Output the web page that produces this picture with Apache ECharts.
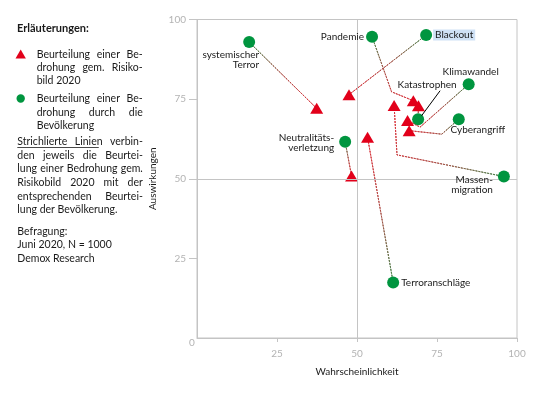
<!DOCTYPE html>
<html><head><meta charset="utf-8">
<script src="https://cdn.jsdelivr.net/npm/echarts@6/dist/echarts.min.js"></script>
<style>html,body{margin:0;padding:0;background:#fff}#c{width:538px;height:395px}</style>
</head><body><div id="c"></div>
<script>
// ---- data ----
const threats = ['systemischer Terror', 'Pandemie', 'Blackout', 'Klimawandel', 'Katastrophen', 'Cyberangriff', 'Massenmigration', 'Neutralitätsverletzung', 'Terroranschläge'];
const labelTexts = ['systemischer\nTerror', 'Pandemie', 'Blackout', 'Klimawandel', 'Katastrophen', 'Cyberangriff', 'Massen-\nmigration', 'Neutralitäts-\nverletzung', 'Terroranschläge'];
// Beurteilung durch die Bevölkerung (green)
const popProb   = [16.3, 54.7, 71.6, 84.9, 69.1, 81.8, 95.9, 46.3, 61.3];
const popImpact = [92.9, 94.6, 95.1, 79.7, 68.7, 68.7, 50.7, 61.6, 17.4];
// Beurteilung gem. Risikobild 2020 (red)
const riskProb   = [37.4, 67.6, 47.5, 65.8, 69.2, 66.3, 61.6, 48.3, 53.3];
const riskImpact = [72.1, 74.5, 76.4, 68.3, 72.9, 65.1, 73.0, 50.9, 63.0];
// bend points of the dashed connectors (null = straight)
const bendProb   = [null, 60.8, null, 69.7, null, 76.5, 62.5, null, null];
const bendImpact = [null, 77.3, null, 66.2, null, 64.0, 57.5, null, null];
const xTicks = [0, 25, 50, 75, 100];
const yTicks = [0, 25, 50, 75, 100];
const refLines = [50];
const headline = 'Erläuterungen:';
const legend1Lines = ['Beurteilung einer Be-', 'drohung gem. Risiko-', 'bild 2020'];
const legend2Lines = ['Beurteilung einer Be-', 'drohung durch die', 'Bevölkerung'];
const noteLines = ['Strichlierte Linien verbin-', 'den jeweils die Beurtei-', 'lung einer Bedrohung gem.', 'Risikobild 2020 mit der', 'entsprechenden Beurtei-', 'lung der Bevölkerung.'];
const surveyLines = ['Befragung:', 'Juni 2020, N = 1000', 'Demox Research'];
const xName = 'Wahrscheinlichkeit';
const yName = 'Auswirkungen';

// ---- styling ----
const FONT = 'Lato';
const GREEN = '#00953f', RED = '#e2001a', TXT = '#1a1a1a', GRID = '#c4c4c4', TICKTXT = '#b3b3b3';
const G = {left: 197, right: 21, top: 19.5, bottom: 57};

// label placement (pixels)
const labelCfg = [
  {pos: 'inside', align: 'right', dx: 10, dy: 18},
  {pos: 'left', distance: 2},
  {pos: 'right', distance: 1, extra: {backgroundColor: '#cfe1f5', padding: [1, 2, 0, 2]}},
  {pos: 'inside', dx: 2, dy: -12},
  {pos: 'inside', dx: 9, dy: -34, leader: [[3.5, -3.5], [22, -28.5]]},
  {pos: 'inside', dx: 19, dy: 11},
  {pos: 'inside', align: 'right', dx: -11, dy: 8.6},
  {pos: 'inside', align: 'right', dx: -11, dy: 1},
  {pos: 'right', distance: 2}
];

const chart = echarts.init(document.getElementById('c'), null, {renderer: 'canvas'});

// connectors
const connectorSeries = threats.map((t, i) => {
  const pts = [[popProb[i], popImpact[i]]];
  if (bendProb[i] != null) pts.push([bendProb[i], bendImpact[i]]);
  pts.push([riskProb[i], riskImpact[i]]);
  const x0 = riskProb[i] >= popProb[i] ? 0 : 1;
  const y0 = riskImpact[i] <= popImpact[i] ? 0 : 1;
  return {
    type: 'line', name: 'conn-' + t, data: pts, symbol: 'none', silent: true, z: 2,
    animation: false,
    lineStyle: {
      width: 1, type: [2, 1],
      color: new echarts.graphic.LinearGradient(x0, y0, 1 - x0, 1 - y0, [
        {offset: 0, color: '#3f8a4f'}, {offset: 0.5, color: '#b0504a'}, {offset: 1, color: '#e2303c'}
      ])
    }
  };
});

// justified text helper
const measure = document.createElement('canvas').getContext('2d');
function textBlock(lines, x0, width, yStart, lh, justify, fontSpec) {
  measure.font = fontSpec;
  const out = [];
  lines.forEach((line, li) => {
    const y = yStart + li * lh;
    const isLast = li === lines.length - 1;
    const words = line.split(' ');
    if (!justify || isLast || words.length < 2) {
      out.push({type: 'text', x: x0, y: y, silent: true, style: {text: line, font: fontSpec, fill: TXT, align: 'left', verticalAlign: 'middle'}});
      return;
    }
    const ws = words.map(w => measure.measureText(w).width);
    const total = ws.reduce((a, b) => a + b, 0);
    const gap = Math.max(2.5, (width - total) / (words.length - 1));
    let cx = x0;
    words.forEach((w, wi) => {
      out.push({type: 'text', x: cx, y: y, silent: true, style: {text: w, font: fontSpec, fill: TXT, align: 'left', verticalAlign: 'middle'}});
      cx += ws[wi] + gap;
    });
  });
  return out;
}

const F11 = '10.5px Lato';
const graphics = [];
graphics.push({type: 'text', x: 17, y: 28.5, silent: true, style: {text: headline, font: 'bold 11px Lato', fill: TXT, align: 'left', verticalAlign: 'middle'}});
graphics.push({type: 'polygon', silent: true, shape: {points: [[20.7, 49.5], [15.5, 58.5], [25.9, 58.5]]}, style: {fill: RED}});
graphics.push(...textBlock(legend1Lines, 36.7, 106, 54.5, 13.3, true, F11));
graphics.push({type: 'circle', silent: true, shape: {cx: 20.7, cy: 98.5, r: 4.2}, style: {fill: GREEN}});
graphics.push(...textBlock(legend2Lines, 36.7, 106, 99, 13.5, true, F11));
graphics.push(...textBlock(noteLines, 17.3, 125.5, 141.8, 13.65, true, F11));
measure.font = F11;
const ulw = measure.measureText('Strichlierte Linien').width;
graphics.push({type: 'line', silent: true, shape: {x1: 17.3, y1: 147.5, x2: 17.3 + ulw + 1, y2: 147.5}, style: {stroke: TXT, lineWidth: 0.8}});
graphics.push(...textBlock(surveyLines, 17.3, 125.5, 231.5, 13.6, false, F11));
// origin "0" label
graphics.push({type: 'text', x: G.left - 5, y: 395 - G.bottom + 5, silent: true, style: {text: String(yTicks[0]), font: '10px Lato', fill: TICKTXT, align: 'center', verticalAlign: 'middle'}});

const option = {
  animation: false,
  backgroundColor: '#fff',
  grid: {left: G.left, right: G.right, top: G.top, bottom: G.bottom, show: true, borderColor: GRID, borderWidth: 1},
  xAxis: {
    type: 'value', min: xTicks[0], max: xTicks[xTicks.length - 1], interval: xTicks[1] - xTicks[0],
    name: xName, nameLocation: 'middle', nameGap: 29,
    nameTextStyle: {color: TXT, fontFamily: FONT, fontSize: 10},
    axisLine: {show: true, lineStyle: {color: GRID}},
    axisTick: {show: true, length: 4, lineStyle: {color: GRID}},
    axisLabel: {color: TICKTXT, fontFamily: FONT, fontSize: 10, margin: 11, showMinLabel: false},
    splitLine: {show: false}
  },
  yAxis: {
    type: 'value', min: yTicks[0], max: yTicks[yTicks.length - 1], interval: yTicks[1] - yTicks[0],
    name: yName, nameLocation: 'middle', nameGap: 28,
    nameTextStyle: {color: TXT, fontFamily: FONT, fontSize: 10},
    axisLine: {show: true, lineStyle: {color: GRID}},
    axisTick: {show: true, length: 8, lineStyle: {color: GRID}},
    axisLabel: {color: TICKTXT, fontFamily: FONT, fontSize: 10, margin: 11, showMinLabel: false},
    splitLine: {show: false}
  },
  graphic: graphics,
  series: [
    {
      type: 'line', name: 'ref', data: [], silent: true, z: 1,
      markLine: {
        silent: true, symbol: 'none', animation: false, label: {show: false},
        lineStyle: {color: GRID, type: 'solid', width: 1},
        data: [...refLines.map(v => ({xAxis: v})), ...refLines.map(v => ({yAxis: v}))]
      }
    },
    ...connectorSeries,
    {
      type: 'scatter', name: 'Risikobild 2020', symbol: 'triangle', symbolSize: [13, 11], z: 4,
      itemStyle: {color: RED, opacity: 1},
      data: threats.map((t, i) => [riskProb[i], riskImpact[i]])
    },
    {
      type: 'scatter', name: 'Bevölkerung', symbol: 'circle', symbolSize: 12, z: 5,
      itemStyle: {color: GREEN, opacity: 1},
      labelLayout: function (p) {
        const c = labelCfg[p.dataIndex];
        return {dx: c.dx || 0, dy: c.dy || 0};
      },
      data: threats.map((t, i) => {
        const c = labelCfg[i];
        const lab = Object.assign({
          show: true, formatter: labelTexts[i], color: TXT, fontFamily: FONT, fontSize: 10, lineHeight: 10,
          position: c.pos
        }, c.align ? {align: c.align} : {}, c.distance != null ? {distance: c.distance} : {}, c.extra || {});
        return {value: [popProb[i], popImpact[i]], name: t, label: lab};
      })
    }
  ]
};
chart.setOption(option);

// leader lines anchored at the data point (through the axis scales)
const leaders = [];
labelCfg.forEach((c, i) => {
  if (!c.leader) return;
  const p = chart.convertToPixel({gridIndex: 0}, [popProb[i], popImpact[i]]);
  leaders.push({
    type: 'line', silent: true, z: 10,
    shape: {x1: p[0] + c.leader[0][0], y1: p[1] + c.leader[0][1], x2: p[0] + c.leader[1][0], y2: p[1] + c.leader[1][1]},
    style: {stroke: '#000', lineWidth: 1}
  });
});
chart.setOption({graphic: graphics.concat(leaders)});
</script>
</body></html>
